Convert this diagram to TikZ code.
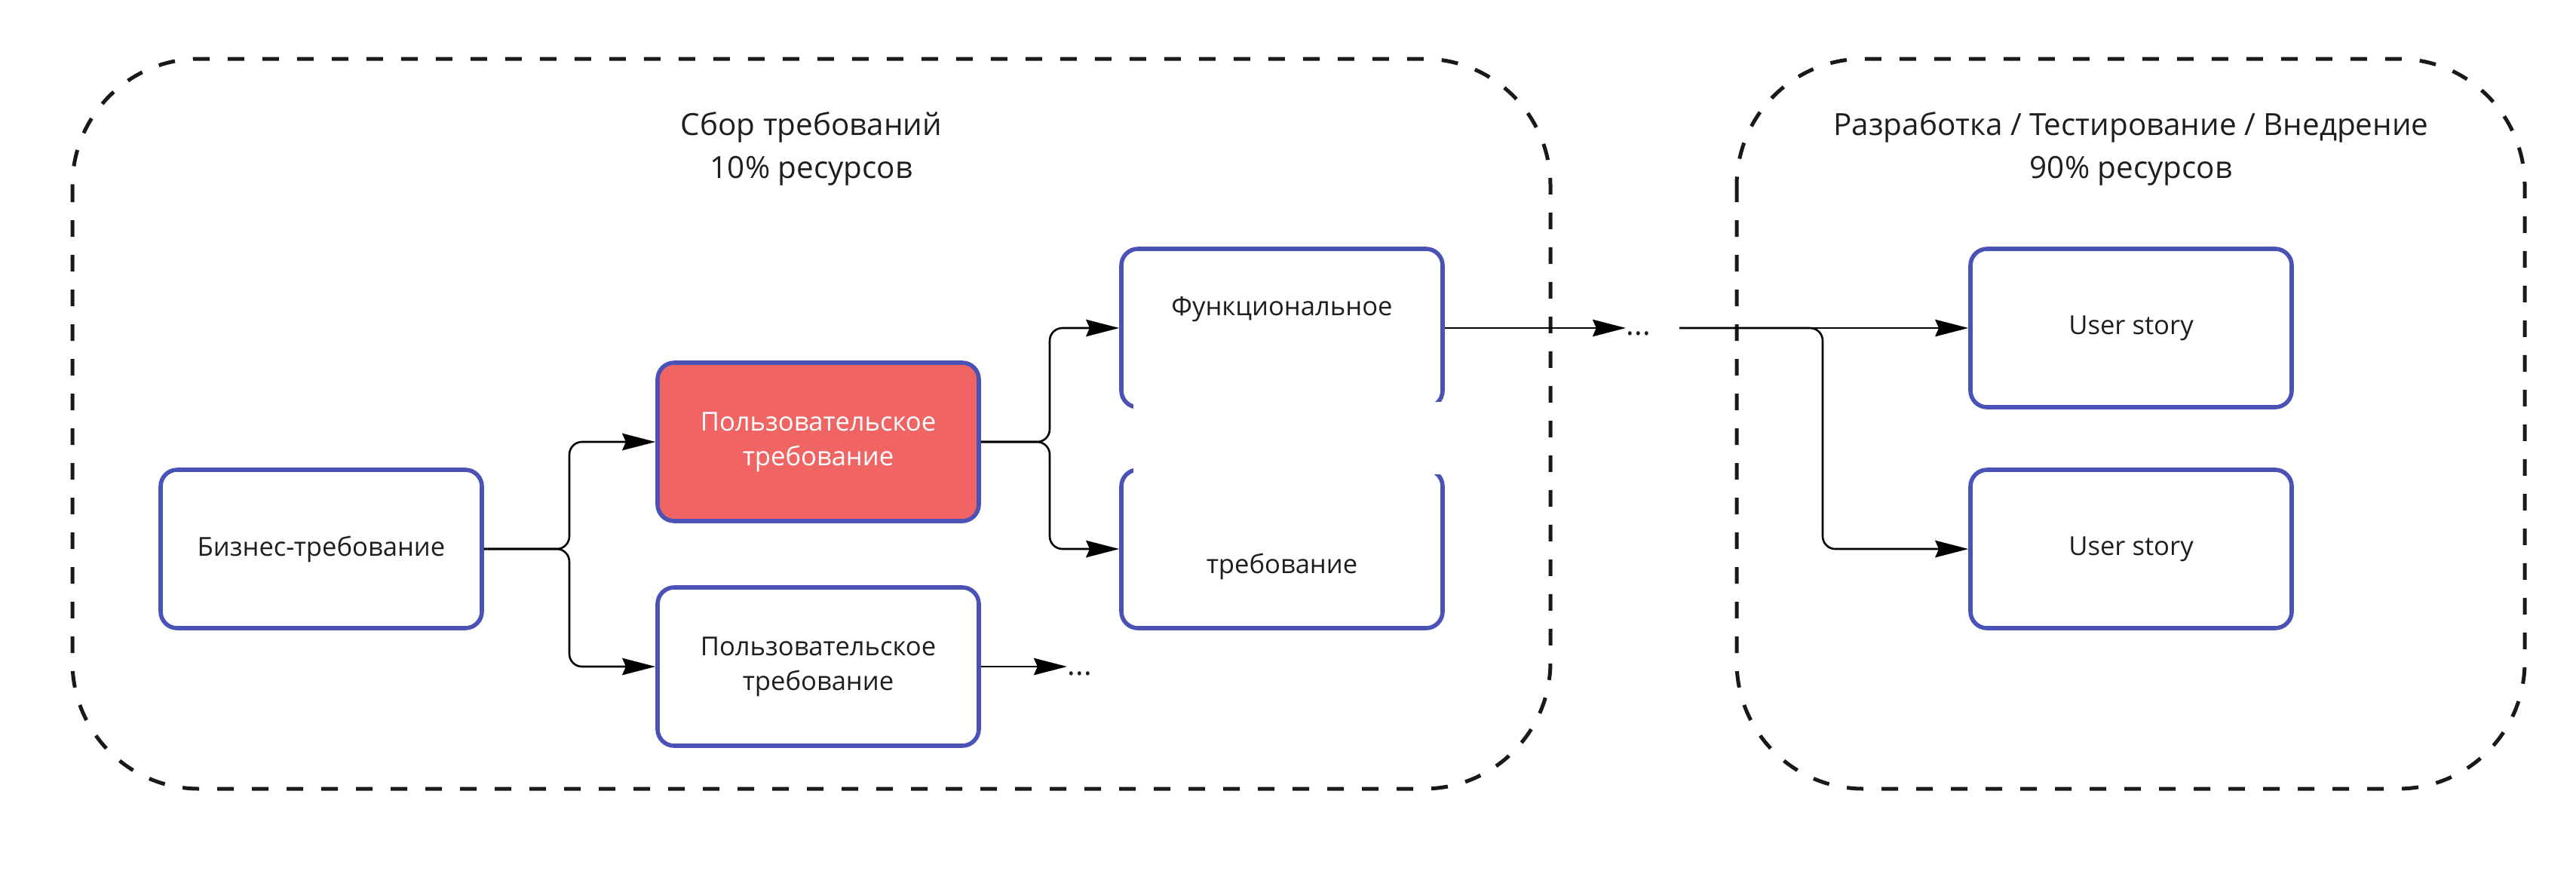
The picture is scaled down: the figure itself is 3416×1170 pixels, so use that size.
\documentclass[tikz,border=0pt]{standalone}
\usepackage{fontspec}
\setmainfont{Open Sans}
\usetikzlibrary{arrows.meta}
\definecolor{boxblue}{HTML}{4A52B5}
\definecolor{boxred}{HTML}{F06464}
\definecolor{txtc}{HTML}{1E1E1E}
\tikzset{
  stepbox/.style={draw=boxblue, line width=1.4pt, rounded corners=5.5pt, fill=white,
    minimum width=106.5pt, minimum height=52.5pt, inner sep=0pt, align=center,
    text=txtc, font=\fontsize{8.65pt}{11.6pt}\selectfont},
  redbox/.style={stepbox, fill=boxred, text=white},
  zone/.style={draw=black!90, line width=1.25pt, dash pattern=on 5.5pt off 6pt, rounded corners=42pt},
  title/.style={align=center, text=txtc, font=\fontsize{10.1pt}{14.2pt}\selectfont, inner sep=0pt},
  txt/.style={text=txtc, font=\fontsize{8.65pt}{11.6pt}\selectfont, inner sep=0pt},
  conn/.style={line width=0.65pt, rounded corners=4.2pt},
  arr/.style={conn, -{Stealth[length=11pt, width=5.6pt, inset=1.2pt]}},
}
\begin{document}
\begin{tikzpicture}[x=0.25pt, y=-0.25pt]
\useasboundingbox (0,0) rectangle (3416,1170);
% zones
\draw[zone] (96,78) rectangle (2056,1046);
\draw[zone] (2303,78) rectangle (3348,1046);
\node[title] (t1) at (1076,197) {Сбор требований\\10\% ресурсов};
\node[title] (t2) at (2826,197) {Разработка / Тестирование / Внедрение\\90\% ресурсов};
% boxes
\node[stepbox] (biz) at (426,728) {Бизнес-требование};
\node[redbox] (red) at (1085,586) {Пользовательское\\требование};
\node[stepbox] (pol2) at (1085,884) {Пользовательское\\требование};
\node[stepbox] (func) at (1700,435) {};
\node[stepbox] (treb) at (1700,728) {};
\fill[white] (1503,533) rectangle (1925,629);
\node[txt] (ftext) at (1700,410) {Функциональное};
\node[txt] (ttext) at (1700,751) {требование};
\node[stepbox] (us1) at (2826,435) {User story};
\node[stepbox] (us2) at (2826,728) {User story};
% dots
\node[txt, font=\fontsize{10pt}{12pt}\selectfont, anchor=west] (dots1) at (1415,893) {...};
\node[txt, font=\fontsize{10pt}{12pt}\selectfont, anchor=west] (dots2) at (2156,442) {...};
\coordinate (s2) at (2227,435);
% connectors
\draw[arr] (biz.east) -- (755,728) |- (red.west);
\draw[arr] (biz.east) -- (755,728) |- (pol2.west);
\draw[arr] (red.east) -- (1392,586) |- (func.west);
\draw[arr] (red.east) -- (1392,586) |- (treb.west);
\draw[arr] (pol2.east) -- (pol2.east -| dots1.west);
\draw[arr] (func.east) -- (func.east -| dots2.west);
\draw[arr] (s2) -- (us1.west);
\draw[arr] (s2) -- (2417,435) |- (us2.west);
\end{tikzpicture}
\end{document}
